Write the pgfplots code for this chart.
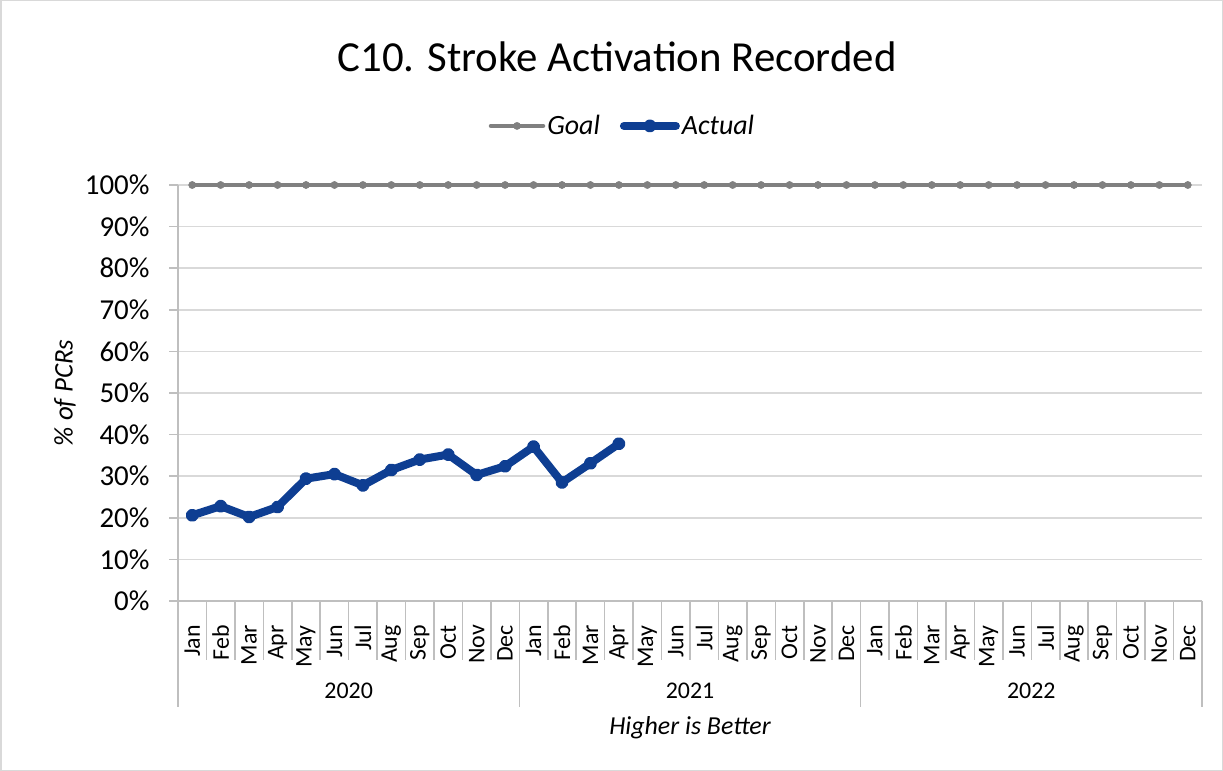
\documentclass[border=0pt]{standalone}
\usepackage{fontspec}
\setmainfont{Carlito}
\usepackage{pgfplots}
\pgfplotsset{compat=1.18}

\definecolor{goalgray}{RGB}{128,128,128}
\definecolor{actblue}{RGB}{14,62,146}
\definecolor{gridgray}{RGB}{217,217,217}
\definecolor{axisgray}{RGB}{191,191,191}

\begin{document}
\begin{tikzpicture}
\useasboundingbox (0,0) rectangle (1223bp,771bp);
\draw[gridgray, line width=1.5bp] (0.75bp,0.75bp) rectangle (1222.25bp,770.25bp);
\begin{axis}[
  at={(178bp,170bp)}, anchor=south west,
  scale only axis, width=1024bp, height=416bp,
  xmin=-0.5, xmax=35.5, ymin=0, ymax=100,
  axis lines*=left, axis line style={axisgray, line width=1.5bp, -},
  ytick={0,10,...,100},
  yticklabels={0\%,10\%,20\%,30\%,40\%,50\%,60\%,70\%,80\%,90\%,100\%},
  ymajorgrids, grid style={gridgray, line width=1.5bp},
  y tick style={axisgray, line width=1.5bp},
  tick align=outside, major tick length=9bp,
  yticklabel style={font=\fontsize{29}{31}\selectfont, xshift=-16bp},
  xtick={0,...,35},
  xticklabels={Jan,Feb,Mar,Apr,May,Jun,Jul,Aug,Sep,Oct,Nov,Dec,
               Jan,Feb,Mar,Apr,May,Jun,Jul,Aug,Sep,Oct,Nov,Dec,
               Jan,Feb,Mar,Apr,May,Jun,Jul,Aug,Sep,Oct,Nov,Dec},
  x tick style={draw=none},
  xticklabel style={font=\fontsize{24}{26}\selectfont, rotate=90, anchor=east, inner xsep=15bp, inner ysep=0pt},
  legend style={draw=none, fill=none, legend columns=2, at={(0.434,1.142)}, anchor=center,
    font=\fontsize{28}{30}\selectfont\itshape,
    /tikz/every even column/.append style={column sep=18bp}},
  legend image code/.code={\draw[mark repeat=2,mark phase=2,#1] plot coordinates {(0bp,0bp) (26bp,0bp) (52bp,0bp)};},
  clip=false]
  \addplot[goalgray, line width=4.5bp, line cap=round, mark=*, mark size=3.6bp, mark options={line width=0.5bp}] coordinates {
    (0,100) (1,100) (2,100) (3,100) (4,100) (5,100) (6,100) (7,100) (8,100) (9,100) (10,100) (11,100)
    (12,100) (13,100) (14,100) (15,100) (16,100) (17,100) (18,100) (19,100) (20,100) (21,100) (22,100) (23,100)
    (24,100) (25,100) (26,100) (27,100) (28,100) (29,100) (30,100) (31,100) (32,100) (33,100) (34,100) (35,100)};
  \addlegendentry{Goal}
  \addplot[actblue, line width=8bp, line cap=round, line join=round, mark=*, mark size=2.5bp, mark options={draw=none}] coordinates {
    (0,20.6) (1,22.8) (2,20.2) (3,22.6) (4,29.4) (5,30.5) (6,27.8) (7,31.5) (8,34.0) (9,35.2) (10,30.3) (11,32.4)
    (12,37.1) (13,28.5) (14,33.1) (15,37.8)};
  \addlegendentry{Actual}
  \pgfplotsinvokeforeach{0.5,1.5,...,34.5}{
    \draw[axisgray, line width=1.5bp] (axis cs:#1,0) -- ([yshift=-59bp]axis cs:#1,0);
  }
  \pgfplotsinvokeforeach{-0.5,11.5,23.5,35.5}{
    \draw[axisgray, line width=1.5bp] (axis cs:#1,0) -- ([yshift=-106bp]axis cs:#1,0);
  }
  \node[font=\fontsize{24}{26}\selectfont] at ([yshift=-90bp]axis cs:5.5,0) {2020};
  \node[font=\fontsize{24}{26}\selectfont] at ([yshift=-90bp]axis cs:17.5,0) {2021};
  \node[font=\fontsize{24}{26}\selectfont] at ([yshift=-90bp]axis cs:29.5,0) {2022};
\end{axis}
\node[font=\fontsize{43}{48}\selectfont] at (617bp,714bp) {C10. Stroke Activation Recorded};
\node[font=\fontsize{26}{30}\selectfont\itshape] at (690bp,43bp) {Higher is Better};
\node[font=\fontsize{27}{30}\selectfont\itshape, rotate=90] at (65bp,378bp) {\% of PCRs};
\end{tikzpicture}
\end{document}
